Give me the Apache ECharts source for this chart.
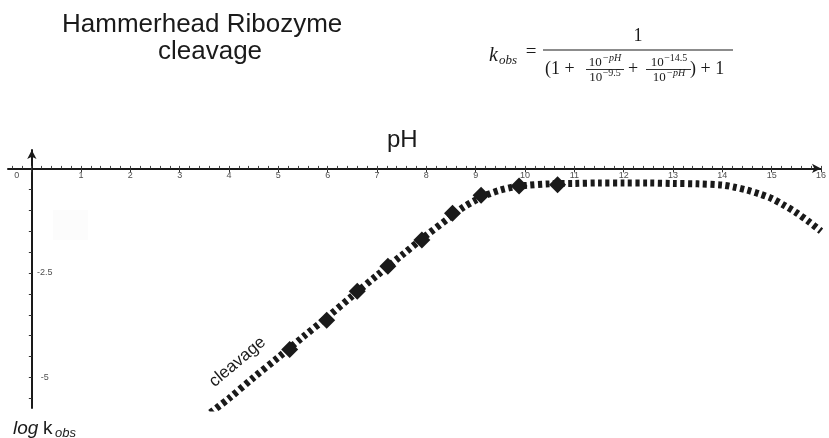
<!DOCTYPE html>
<html><head><meta charset="utf-8">
<script src="https://cdn.jsdelivr.net/npm/echarts@6/dist/echarts.min.js"></script>
<style>html,body{margin:0;padding:0;background:#fff}#c{width:829px;height:438px}</style>
</head><body><div id="c"></div>
<script>
// ---- data ----
const curvePH   = [3.5, 4.0, 4.5, 5.0, 5.5, 6.0, 6.5, 7.0, 7.5, 8.0, 8.5, 8.75, 9.0, 9.25, 9.5, 9.75, 10.0, 10.5, 11.0, 11.5, 12.0, 12.5, 13.0, 13.5, 14.0, 14.25, 14.5, 14.75, 15.0, 15.25, 15.5, 15.75, 16.0];
const curveLogK = [-5.95, -5.5, -5.0, -4.52, -4.03, -3.55, -3.05, -2.56, -2.08, -1.6, -1.15, -0.93, -0.76, -0.62, -0.52, -0.45, -0.41, -0.37, -0.36, -0.35, -0.35, -0.35, -0.36, -0.37, -0.40, -0.45, -0.52, -0.61, -0.72, -0.88, -1.06, -1.27, -1.5];
const markerPH   = [5.23, 5.98, 6.60, 7.22, 7.91, 8.53, 9.11, 9.88, 10.66];
const markerLogK = [-4.33, -3.63, -2.94, -2.34, -1.71, -1.07, -0.64, -0.42, -0.39];
const xTickLabels = [0, 1, 2, 3, 4, 5, 6, 7, 8, 9, 10, 11, 12, 13, 14, 15, 16];
const yTickLabels = [-2.5, -5];
const yTickValues = [-0.5, -1, -1.5, -2, -2.5, -3, -3.5, -4, -4.5, -5, -5.5];
const titleLines = ['Hammerhead Ribozyme', 'cleavage'];
const xName = 'pH';
const curveName = 'cleavage';

const X_MIN = -0.48, X_MAX = 16, Y_MIN = -5.73, Y_MAX = 0.44;
const W = 829, H = 438;
const GRID = { left: 8, right: 2, top: 150, bottom: 30 };
const gridW = W - GRID.left - GRID.right, gridH = H - GRID.top - GRID.bottom;
// move the axes onto the origin (x = 0, y = 0)
const xAxisOffset = -gridH * (0 - Y_MIN) / (Y_MAX - Y_MIN);
const yAxisOffset = -gridW * (0 - X_MIN) / (X_MAX - X_MIN);

const minorTickValues = [];
for (let k = -2; k <= 80; k++) minorTickValues.push(k / 5);

const mctx = document.createElement('canvas').getContext('2d');
function tw(text, font) { mctx.font = font; return mctx.measureText(text).width; }
const SERIF = '"Liberation Serif","Times New Roman",serif';
const SANS = '"Liberation Sans",Arial,Helvetica,sans-serif';
const INK = '#1a1a1a';
const LABEL = '#505050';

function txt(x, y, text, font, align, extra) {
  return Object.assign({ type: 'text', x: x, y: y, silent: true,
    style: { text: text, font: font, fill: INK, align: align || 'left', verticalAlign: 'middle' } }, extra || {});
}
function hline(x1, x2, y, w) {
  return { type: 'line', silent: true, shape: { x1: x1, y1: y, x2: x2, y2: y }, style: { stroke: INK, lineWidth: w || 1 } };
}
function supText(cx, baseMid, base, sup, supItalic) {
  const bf = '13px ' + SERIF;
  const sf = (supItalic ? 'italic ' : '') + '10px ' + SERIF;
  const wb = tw(base, bf), ws = tw(sup, sf);
  const x0 = cx - (wb + ws + 0.5) / 2;
  return [txt(x0, baseMid, base, bf), txt(x0 + wb + 0.5, baseMid - 4, sup, sf)];
}

const graphics = [];
// very faint background patch seen in the reference
graphics.push({ type: 'rect', silent: true, z: -1, shape: { x: 53, y: 210, width: 35, height: 30 }, style: { fill: '#fcfcfc' } });
graphics.push(txt(62, 24.5, titleLines[0], '26px ' + SANS));
graphics.push(txt(158, 51.5, titleLines[1], '26px ' + SANS));
graphics.push(txt(387, 140, xName, '24px ' + SANS));
graphics.push(txt(13, 429, 'log', 'italic 19px ' + SANS));
graphics.push(txt(43, 429, 'k', '19px ' + SANS));
graphics.push(txt(55, 433, 'obs', 'italic 13px ' + SANS));
graphics.push(txt(237.5, 362, curveName, '17px ' + SANS, 'center', { rotation: 40 * Math.PI / 180 }));
// formula
graphics.push(txt(489, 55.5, 'k', 'italic 20px ' + SERIF));
graphics.push(txt(499, 60.5, 'obs', 'italic 13px ' + SERIF));
graphics.push(txt(531, 52.5, '=', '19px ' + SERIF, 'center'));
graphics.push(hline(543, 733, 50, 1.2));
graphics.push(txt(638, 36.5, '1', '18px ' + SERIF, 'center'));
graphics.push(txt(545, 69.5, '(1 +', '18px ' + SERIF));
graphics.push(hline(586, 624, 69.5, 0.9));
supText(605, 62.5, '10', '\u2212pH', true).forEach(g => graphics.push(g));
supText(605, 77.5, '10', '\u22129.5', false).forEach(g => graphics.push(g));
graphics.push(txt(633, 69.5, '+', '18px ' + SERIF, 'center'));
graphics.push(hline(646, 691, 69.5, 0.9));
supText(669, 62.5, '10', '\u221214.5', false).forEach(g => graphics.push(g));
supText(669, 77.5, '10', '\u2212pH', true).forEach(g => graphics.push(g));
graphics.push(txt(690, 69.5, ') + 1', '18px ' + SERIF));

const chart = echarts.init(document.getElementById('c'), null, { renderer: 'canvas' });
chart.setOption({
  animation: false,
  backgroundColor: '#fff',
  grid: Object.assign({ containLabel: false }, GRID),
  xAxis: [{
    type: 'value', min: X_MIN, max: X_MAX, position: 'bottom', offset: xAxisOffset,
    axisLine: { onZero: false, lineStyle: { color: INK, width: 2 }, symbol: ['none', 'arrow'], symbolSize: [7, 9] },
    axisTick: { show: true, customValues: xTickLabels, length: 4, lineStyle: { color: '#333', width: 1 } },
    axisLabel: {
      show: true, customValues: xTickLabels, margin: 3, fontSize: 9, color: LABEL, fontFamily: SANS,
      formatter: v => v === 0 ? '{z|0}' : String(v),
      rich: { z: { fontSize: 9, color: LABEL, fontFamily: SANS, padding: [0, 30, 0, 0] } }
    },
    splitLine: { show: false }
  }, {
    type: 'value', min: X_MIN, max: X_MAX, position: 'bottom', offset: xAxisOffset,
    axisLine: { show: false, onZero: false },
    axisTick: { show: true, inside: true, customValues: minorTickValues, length: 2.5, lineStyle: { color: '#444', width: 1 } },
    axisLabel: { show: false },
    splitLine: { show: false }
  }],
  yAxis: {
    type: 'value', min: Y_MIN, max: Y_MAX, position: 'left', offset: yAxisOffset,
    axisLine: { onZero: false, lineStyle: { color: INK, width: 2 }, symbol: ['none', 'arrow'], symbolSize: [7, 9] },
    axisTick: { show: true, customValues: yTickValues, length: 3, lineStyle: { color: '#333', width: 1 } },
    axisLabel: { show: true, customValues: yTickLabels, inside: true, margin: 13, align: 'center', fontSize: 9, color: LABEL, fontFamily: SANS },
    splitLine: { show: false }
  },
  graphic: graphics,
  series: [{
    type: 'line', name: curveName, xAxisIndex: 0,
    data: curvePH.map((p, i) => [p, curveLogK[i]]),
    showSymbol: false, smooth: 0.3, silent: true, z: 2,
    lineStyle: { color: INK, width: 7, type: [4, 3.5], cap: 'butt' }
  }, {
    type: 'scatter', xAxisIndex: 0,
    data: markerPH.map((p, i) => [p, markerLogK[i]]),
    symbol: 'diamond', symbolSize: 17, silent: true, z: 3,
    itemStyle: { color: INK, opacity: 1 }
  }]
});
</script></body></html>
